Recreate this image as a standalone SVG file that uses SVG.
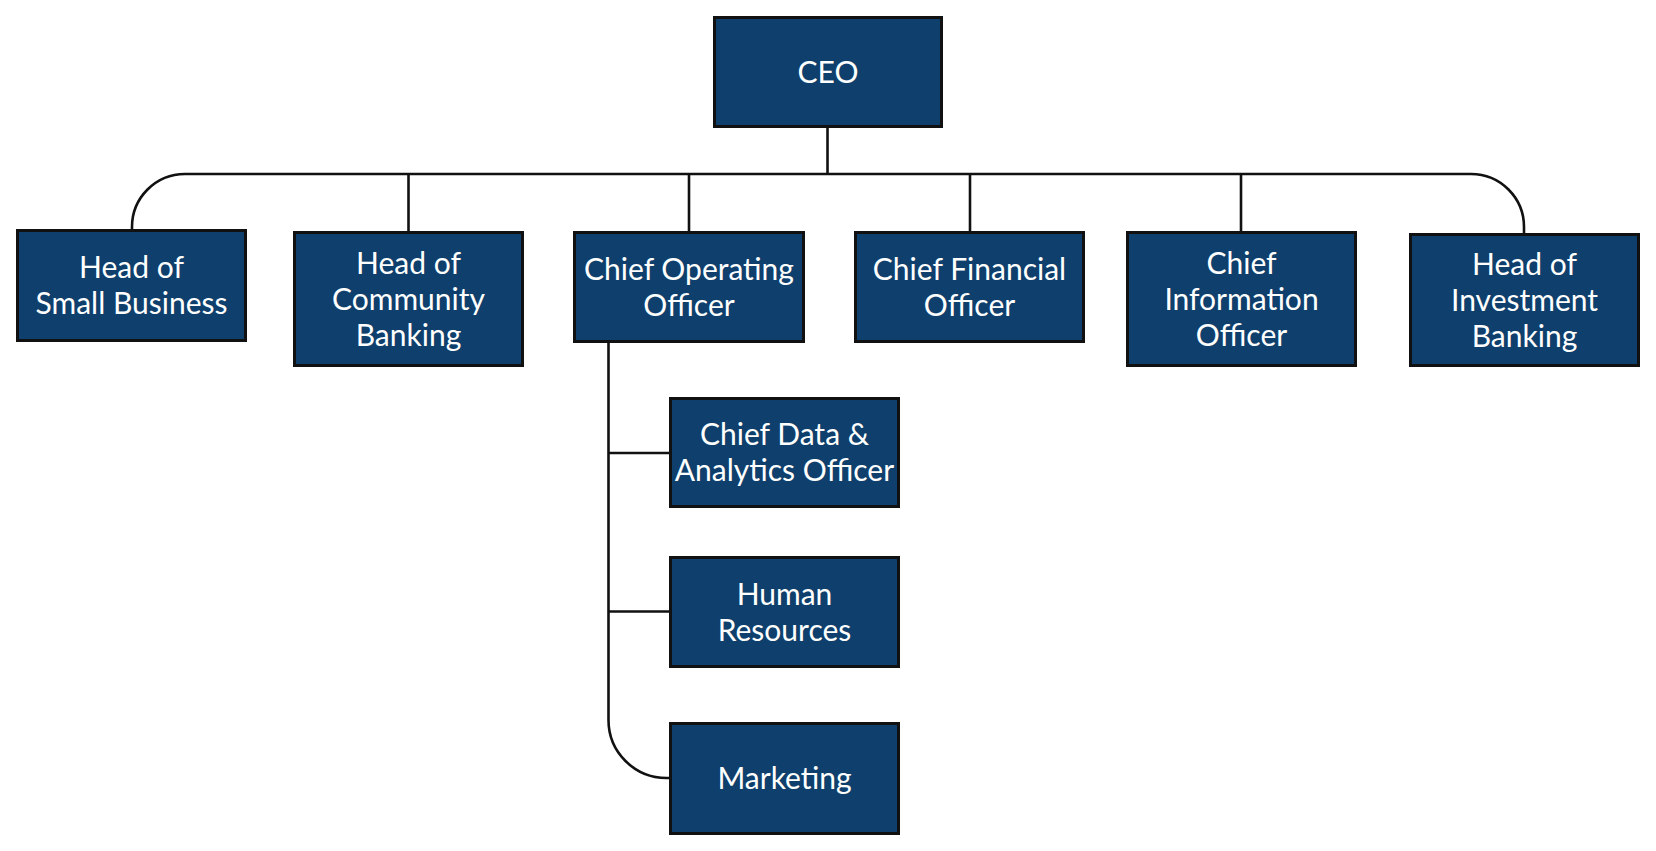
<svg xmlns="http://www.w3.org/2000/svg" width="1656" height="851" viewBox="0 0 1656 851">
<style>
.box{fill:#0f3f6c;stroke:#111;stroke-width:3}
.lbl{fill:#fff;font-family:Lato,"Liberation Sans",sans-serif;font-size:30px;text-anchor:middle}
.con{fill:none;stroke:#111;stroke-width:2.6}
</style>
<rect width="1656" height="851" fill="#fff"/>
<g id="connectors">
<path class="con" d="M827.5 128 V174"/>
<path class="con" d="M132 229 V227 A53 53 0 0 1 185 174 H1471 A53 53 0 0 1 1524 227 V233"/>
<path class="con" d="M408.5 174 V231"/>
<path class="con" d="M689 174 V231"/>
<path class="con" d="M970 174 V231"/>
<path class="con" d="M1241 174 V231"/>
<path class="con" d="M608.5 343 V720 A58 58 0 0 0 666.5 778 H669"/>
<path class="con" d="M608.5 453 H669"/>
<path class="con" d="M608.5 611.5 H669"/>
</g>
<g id="ceo"><rect class="box" x="714.5" y="17.5" width="227" height="109"/><text class="lbl" x="828" y="83">CEO</text></g>
<g id="small-business"><rect class="box" x="17.5" y="230.5" width="228" height="110"/><text class="lbl" x="131.5" y="278.3">Head of</text><text class="lbl" x="131.5" y="314.3">Small Business</text></g>
<g id="community-banking"><rect class="box" x="294.5" y="232.5" width="228" height="133"/><text class="lbl" x="408.5" y="273.8">Head of</text><text class="lbl" x="408.5" y="309.8">Community</text><text class="lbl" x="408.5" y="345.8">Banking</text></g>
<g id="coo"><rect class="box" x="574.5" y="232.5" width="229" height="109"/><text class="lbl" x="689" y="279.8">Chief Operating</text><text class="lbl" x="689" y="315.8">Officer</text></g>
<g id="cfo"><rect class="box" x="855.5" y="232.5" width="228" height="109"/><text class="lbl" x="969.5" y="279.8">Chief Financial</text><text class="lbl" x="969.5" y="315.8">Officer</text></g>
<g id="cio"><rect class="box" x="1127.5" y="232.5" width="228" height="133"/><text class="lbl" x="1241.5" y="273.8">Chief</text><text class="lbl" x="1241.5" y="309.8">Information</text><text class="lbl" x="1241.5" y="345.8">Officer</text></g>
<g id="investment-banking"><rect class="box" x="1410.5" y="234.5" width="228" height="131"/><text class="lbl" x="1524.5" y="274.8">Head of</text><text class="lbl" x="1524.5" y="310.8">Investment</text><text class="lbl" x="1524.5" y="346.8">Banking</text></g>
<g id="cdao"><rect class="box" x="670.5" y="398.5" width="228" height="108"/><text class="lbl" x="784.5" y="445.3">Chief Data &amp;</text><text class="lbl" x="784.5" y="481.3">Analytics Officer</text></g>
<g id="hr"><rect class="box" x="670.5" y="557.5" width="228" height="109"/><text class="lbl" x="784.5" y="604.8">Human</text><text class="lbl" x="784.5" y="640.8">Resources</text></g>
<g id="marketing"><rect class="box" x="670.5" y="723.5" width="228" height="110"/><text class="lbl" x="784.5" y="789.3">Marketing</text></g>
</svg>
